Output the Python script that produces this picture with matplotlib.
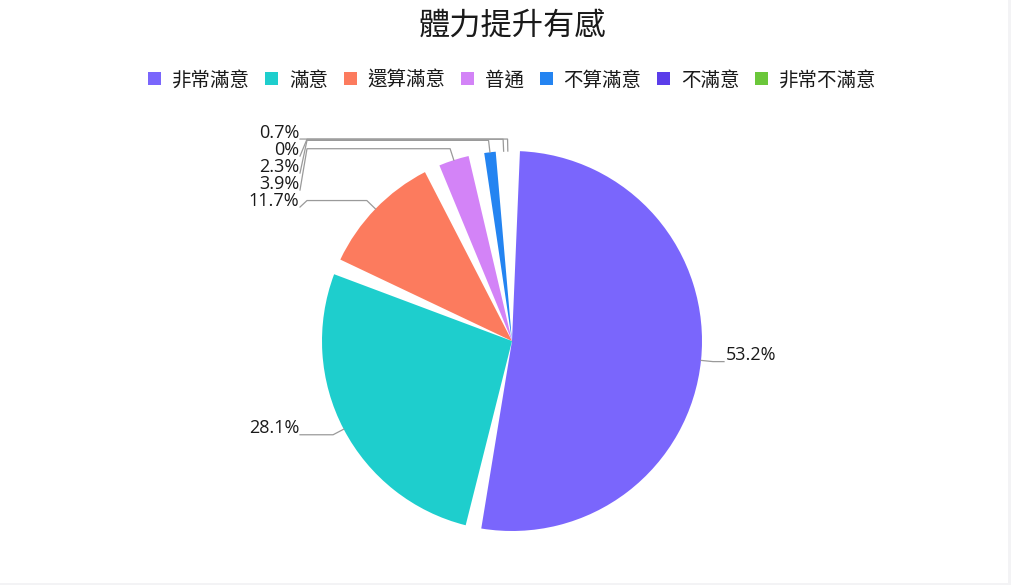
import numpy as np
import matplotlib
matplotlib.use("Agg")
import matplotlib.pyplot as plt
from matplotlib.patches import Patch

# ---- data ----
categories = ['非常滿意', '滿意', '還算滿意', '普通', '不算滿意', '不滿意', '非常不滿意']
values = [53.2, 28.1, 11.7, 3.9, 2.3, 0.0, 0.7]
pct_labels = ['53.2%', '28.1%', '11.7%', '3.9%', '2.3%', '0%', '0.7%']
colors = ['#7A66FC', '#1ECECD', '#FC7B5E', '#D383F7', '#2484F1', '#5B3DEA', '#6BC73A']
title = '體力提升有感'

# ---- layout (pixel-like data units, y up) ----
W, H = 1011, 585
fig = plt.figure(figsize=(W / 100, H / 100), dpi=100)
fig.patch.set_facecolor('#f3f3f5')
ax = fig.add_axes([0, 2 / H, 1008 / W, 583 / H])
ax.set_facecolor('white')

cx, cy, R = 512, H - 341, 190
pad = 4.8  # angular gap between slices (deg)

wedges, _ = ax.pie(values, colors=colors, startangle=90, counterclock=False,
                   center=(cx, cy), radius=R, wedgeprops=dict(linewidth=0),
                   frame=True)
ax.set_xlim(0, 1008)
ax.set_ylim(2, H)
ax.set_aspect('auto')
ax.set_xticks([]); ax.set_yticks([])
for s in ax.spines.values():
    s.set_visible(False)

mids = []
for w in wedges:
    t1, t2 = w.theta1, w.theta2
    mids.append(np.deg2rad((t1 + t2) / 2))
    if t2 - t1 > pad:
        w.set_theta1(t1 + pad / 2)
        w.set_theta2(t2 - pad / 2)
    else:
        w.set_visible(False)

# leader lines + labels
L1 = 12
xoff = 212
info = []
for i, phi in enumerate(mids):
    ex, ey = cx + R * np.cos(phi), cy + R * np.sin(phi)
    bx, by = cx + (R + L1) * np.cos(phi), cy + (R + L1) * np.sin(phi)
    side = -1 if np.cos(phi) < 0 else 1
    info.append(dict(i=i, e=(ex, ey), b=(bx, by), side=side, ly=by))

# resolve overlaps per side (top to bottom)
for side in (-1, 1):
    items = sorted([d for d in info if d['side'] == side], key=lambda d: -d['ly'])
    for k in range(1, len(items)):
        items[k]['ly'] = min(items[k]['ly'], items[k - 1]['ly'] - 17)

lfont = dict(family=['Open Sans', 'DejaVu Sans'], size=13, color='#1a1a1a')
for d in info:
    side = d['side']
    xend = cx + side * xoff
    xs = [d['e'][0], d['b'][0], xend - side * 7, xend]
    ys = [d['e'][1], d['b'][1], d['b'][1], d['ly']]
    ax.plot(xs, ys, color='#9a9a9a', lw=0.9, solid_joinstyle='round', zorder=1)
    if side < 0:
        ax.text(xend - 1, d['ly'] + 1.5, pct_labels[d['i']], ha='right', va='baseline', **lfont)
    else:
        ax.text(xend + 2, d['ly'] + 1.5, pct_labels[d['i']], ha='left', va='baseline', **lfont)

# title
fig.text(512 / W, 1 - 26 / H, title, ha='center', va='center', fontsize=22.5,
         family=['Noto Sans CJK TC', 'DejaVu Sans'], weight='medium', color='#1a1a1a')

# legend
handles = [Patch(facecolor=c, edgecolor='none') for c in colors]
leg = fig.legend(handles, categories, loc='center', bbox_to_anchor=(512 / W, 1 - 80 / H),
                 ncol=len(categories), frameon=False,
                 prop=dict(family=['Noto Sans CJK TC', 'DejaVu Sans'], size=14),
                 handlelength=0.68, handleheight=0.68, handletextpad=0.55,
                 columnspacing=0.8, borderaxespad=0, borderpad=0)
for t in leg.get_texts():
    t.set_color('#1a1a1a')

fig.savefig('out.png', dpi=100, facecolor=fig.get_facecolor())
